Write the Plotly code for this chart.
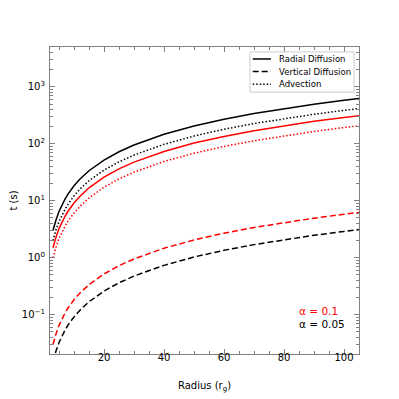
import plotly.graph_objects as go

# radius in gravitational radii
radius = [3, 3.5, 4, 5, 6, 7, 8, 10, 12, 15, 20, 25, 30, 40, 50, 60, 70, 80, 90, 100, 105]

# timescales (s), alpha = 0.05
radial_a005 = [3.0, 3.8, 4.6, 6.5, 8.5, 10.7, 13.1, 18.3, 24.1, 33.7, 51.9, 72.5, 95.3,
               147, 205, 270, 340, 415, 495, 580, 624]
vertical_a005 = [0.015, 0.019, 0.023, 0.0325, 0.0425, 0.0535, 0.0655, 0.0915, 0.120, 0.169,
                 0.260, 0.363, 0.477, 0.735, 1.03, 1.35, 1.70, 2.08, 2.48, 2.90, 3.12]
advection_a005 = [2.0, 2.5, 3.1, 4.3, 5.7, 7.1, 8.7, 12.2, 16.1, 22.5, 34.6, 48.3, 63.5,
                  98, 137, 180, 227, 277, 330, 387, 416]

# timescales (s), alpha = 0.1
radial_a01 = [1.5, 1.9, 2.3, 3.25, 4.25, 5.35, 6.55, 9.15, 12.0, 16.9, 26.0, 36.3, 47.7,
              73.5, 103, 135, 170, 208, 248, 290, 312]
vertical_a01 = [0.030, 0.038, 0.046, 0.065, 0.085, 0.107, 0.131, 0.183, 0.241, 0.337,
                0.519, 0.725, 0.953, 1.47, 2.05, 2.70, 3.40, 4.15, 4.95, 5.80, 6.24]
advection_a01 = [1.0, 1.27, 1.53, 2.17, 2.83, 3.57, 4.37, 6.1, 8.0, 11.2, 17.3, 24.2, 31.8,
                 49, 68.3, 90, 113, 138, 165, 193, 208]

legend_names = ["Radial Diffusion", "Vertical Diffusion", "Advection"]
y_tickvals = [0.1, 1, 10, 100, 1000]
y_ticktext = ["10<sup>−1</sup>", "10<sup>0</sup>", "10<sup>1</sup>", "10<sup>2</sup>", "10<sup>3</sup>"]

DASH = "6px,3px"
DOT = "1.5px,2px"
FONT = "DejaVu Sans"
AXIS_GREY = "#808080"

fig = go.Figure()

series = [
    (radial_a005, "black", "solid"),
    (vertical_a005, "black", DASH),
    (advection_a005, "black", DOT),
    (radial_a01, "red", "solid"),
    (vertical_a01, "red", DASH),
    (advection_a01, "red", DOT),
]
for values, color, dash in series:
    fig.add_trace(go.Scatter(
        x=radius, y=values, mode="lines", showlegend=False,
        line=dict(color=color, width=1.5, dash=dash),
    ))

axis_common = dict(
    showline=True, linecolor=AXIS_GREY, linewidth=1.2, mirror="allticks",
    ticks="inside", ticklen=5, tickcolor=AXIS_GREY, tickwidth=1,
    showgrid=False, zeroline=False, automargin=False,
    tickfont=dict(family=FONT, size=10, color="black"),
)

fig.update_xaxes(
    range=[2, 105], tick0=0, dtick=20,
    minor=dict(ticks="inside", ticklen=2.5, dtick=5, tickcolor=AXIS_GREY),
    title=dict(text="Radius (r<sub>g</sub>)", font=dict(family=FONT, size=10, color="black"),
               standoff=19),
    ticklabelstandoff=-6,
    **axis_common,
)

minor_y = [m * 10 ** e for e in range(-2, 4) for m in range(2, 10)]
fig.update_yaxes(
    type="log", range=[-1.69, 3.70],
    tickmode="array", tickvals=y_tickvals, ticktext=y_ticktext,
    minor=dict(ticks="inside", ticklen=2.5, tickmode="array", tickvals=minor_y,
               tickcolor=AXIS_GREY),
    title=dict(text="t (s)", font=dict(family=FONT, size=10, color="black"), standoff=5),
    ticklabelstandoff=2,
    **axis_common,
)

# alpha labels
fig.add_annotation(x=0.80, y=0.140, xref="paper", yref="paper", xanchor="left",
                   yanchor="middle", showarrow=False, text="α = 0.1",
                   font=dict(family=FONT, size=10.5, color="red"))
fig.add_annotation(x=0.80, y=0.098, xref="paper", yref="paper", xanchor="left",
                   yanchor="middle", showarrow=False, text="α = 0.05",
                   font=dict(family=FONT, size=10.5, color="black"))

# compact matplotlib-style legend
fig.add_shape(type="rect", xref="paper", yref="paper", x0=0.647, x1=0.984, y0=0.853, y1=0.984,
              line=dict(color="#cccccc", width=1), fillcolor="white", layer="above")
for i, (name, dash) in enumerate(zip(legend_names, ["solid", DASH, DOT])):
    ly = 0.961 - i * 0.041
    fig.add_shape(type="line", xref="paper", yref="paper", x0=0.656, x1=0.715, y0=ly, y1=ly,
                  line=dict(color="black", width=1.5, dash=dash), layer="above")
    fig.add_annotation(x=0.735, y=ly, xref="paper", yref="paper", xanchor="left",
                       yanchor="middle", showarrow=False, text=name,
                       font=dict(family=FONT, size=8.5, color="black"))

# the page body adds an 8px margin, so the figure is shrunk to fit the 399px window
fig.update_layout(
    width=391, height=391,
    margin=dict(l=42, r=40, t=39, b=45),
    plot_bgcolor="white", paper_bgcolor="white",
    font=dict(family=FONT),
)

fig.write_html("out.html")
